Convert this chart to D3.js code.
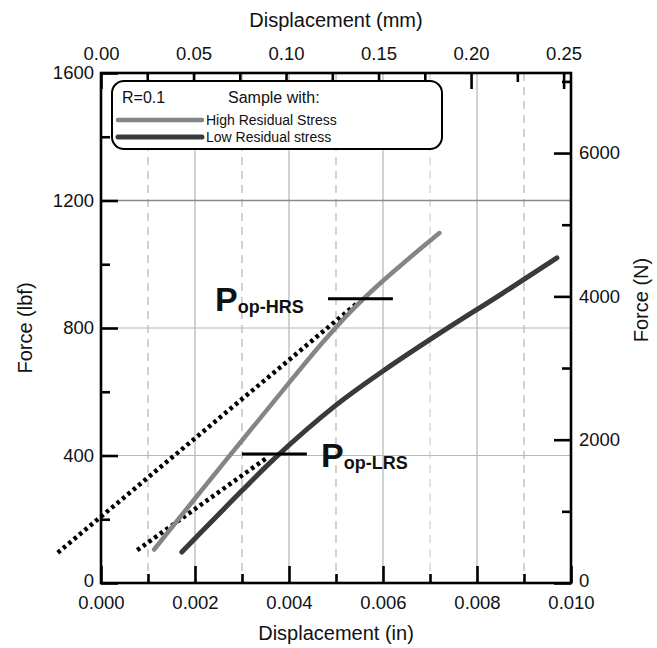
<!DOCTYPE html>
<html>
<head>
<meta charset="utf-8">
<script src="https://cdn.jsdelivr.net/npm/d3@7"></script>
<style>
  body { margin: 0; background: #fff; }
  svg { display: block; }
  text { font-family: "Liberation Sans", Arial, Helvetica, sans-serif; fill: #111; }
</style>
</head>
<body>
<svg id="chart" width="657" height="648"></svg>
<script>
// Load–displacement curves (displacement in inches, force in lbf)
const hrsDisp  = [0.00113, 0.0020, 0.0030, 0.0040, 0.0047, 0.0053, 0.0059, 0.0065, 0.0072];
const hrsForce = [105, 265, 447, 628, 752, 850, 935, 1012, 1098];
const lrsDisp  = [0.00172, 0.0025, 0.0030, 0.0037, 0.0050, 0.0060, 0.0072, 0.0085, 0.0097];
const lrsForce = [97, 215, 290, 392, 558, 665, 783, 905, 1020];

// Tangent (compliance) lines drawn dotted
const hrsTanDisp  = [-0.00092, 0.00545];
const hrsTanForce = [95, 878];
const lrsTanDisp  = [0.00077, 0.00355];
const lrsTanForce = [103, 395];

// Opening-load markers
const popNames = ["HRS", "LRS"];
const popForce = [892, 405];
const popFrom  = [0.00483, 0.00300];
const popTo    = [0.00621, 0.00438];

// Axis ticks
const inMajor = [0, 0.002, 0.004, 0.006, 0.008, 0.010];
const inMinor = [0.001, 0.003, 0.005, 0.007, 0.009];
const mmMajor = [0, 0.05, 0.10, 0.15, 0.20, 0.25];
const mmMinor = [0.025, 0.075, 0.125, 0.175, 0.225];
const lbfMajor = [0, 400, 800, 1200, 1600];
const lbfMinor = [200, 600, 1000, 1400];
const nMajor = [0, 2000, 4000, 6000];
const nMinor = [1000, 3000, 5000, 7000];

const legendNames = ["High Residual Stress", "Low Residual stress"];
const seriesColors = ["#858585", "#3a3a3a"];

const svg = d3.select("#chart");
const L = 101, R = 571, T = 73, B = 583;

const x = d3.scaleLinear().domain([0, 0.010]).range([L, R]);
const xmm = d3.scaleLinear().domain([0, 0.010 * 25.4]).range([L, R]);
const y = d3.scaleLinear().domain([0, 1600]).range([B, T]);
const yN = d3.scaleLinear().domain([0, 1600 * 4.44822]).range([B, T]);

// Grid
const grid = svg.append("g");
grid.selectAll(".vmaj").data(inMajor.slice(1, -1)).join("line")
  .attr("x1", d => x(d)).attr("x2", d => x(d)).attr("y1", T).attr("y2", B)
  .attr("stroke", "#b4b4b4").attr("stroke-width", 1.2);
grid.selectAll(".vmin").data(inMinor).join("line")
  .attr("x1", d => x(d)).attr("x2", d => x(d)).attr("y1", T).attr("y2", B)
  .attr("stroke", d => d === 0.007 ? "#cfcfcf" : "#b4b4b4")
  .attr("stroke-width", 1.2).attr("stroke-dasharray", "8 6");
grid.selectAll(".h").data(lbfMajor.slice(1, -1)).join("line")
  .attr("x1", L).attr("x2", R).attr("y1", d => y(d)).attr("y2", d => y(d))
  .attr("stroke", d => d === 1200 ? "#8a8a8a" : "#b8b8b8")
  .attr("stroke-width", d => d === 1200 ? 1.6 : 1.2);

// Axes with inward ticks
function styleAxis(g) {
  g.select(".domain").remove();
  g.selectAll(".tick line").attr("stroke", "#000").attr("stroke-width", 2.6);
  g.selectAll(".tick text").attr("font-size", 18.5).attr("fill", "#111")
    .attr("font-family", '"Liberation Sans", Arial, sans-serif');
}
const fmt3 = d3.format(".3f"), fmt2 = d3.format(".2f");

svg.append("g").attr("transform", `translate(0,${B})`)
  .call(d3.axisBottom(x).tickValues(inMajor).tickFormat(fmt3).tickSize(-17).tickPadding(13)).call(styleAxis);
svg.append("g").attr("transform", `translate(0,${B})`)
  .call(d3.axisBottom(x).tickValues(inMinor).tickFormat("").tickSize(-9)).call(styleAxis);

svg.append("g").attr("transform", `translate(0,${T})`)
  .call(d3.axisTop(xmm).tickValues(mmMajor).tickFormat(fmt2).tickSize(-16).tickPadding(13)).call(styleAxis);
svg.append("g").attr("transform", `translate(0,${T})`)
  .call(d3.axisTop(xmm).tickValues(mmMinor).tickFormat("").tickSize(-9)).call(styleAxis);

svg.append("g").attr("transform", `translate(${L},0)`)
  .call(d3.axisLeft(y).tickValues(lbfMajor).tickFormat(d3.format("d")).tickSize(-17).tickPadding(7)).call(styleAxis);
svg.append("g").attr("transform", `translate(${L},0)`)
  .call(d3.axisLeft(y).tickValues(lbfMinor).tickFormat("").tickSize(-9)).call(styleAxis);

svg.append("g").attr("transform", `translate(${R},0)`)
  .call(d3.axisRight(yN).tickValues(nMajor).tickFormat(d3.format("d")).tickSize(-17).tickPadding(8)).call(styleAxis);
svg.append("g").attr("transform", `translate(${R},0)`)
  .call(d3.axisRight(yN).tickValues(nMinor).tickFormat("").tickSize(-9)).call(styleAxis);

// The zero labels sit just above the bottom-axis labels
svg.selectAll(".tick text").filter(function () { return this.textContent === "0"; })
  .attr("dy", "0.2em");

// Frame
svg.append("rect").attr("x", L).attr("y", T).attr("width", R - L).attr("height", B - T)
  .attr("fill", "none").attr("stroke", "#000").attr("stroke-width", 2.6);

// Axis titles
svg.append("text").attr("x", (L + R) / 2).attr("y", 640).attr("text-anchor", "middle")
  .attr("font-size", 20).text("Displacement (in)");
svg.append("text").attr("x", (L + R) / 2).attr("y", 27).attr("text-anchor", "middle")
  .attr("font-size", 20).text("Displacement (mm)");
svg.append("text").attr("transform", `translate(32,${(T + B) / 2}) rotate(-90)`)
  .attr("text-anchor", "middle").attr("font-size", 20).text("Force (lbf)");
svg.append("text").attr("transform", `translate(648,${(T + B) / 2 - 28}) rotate(-90)`)
  .attr("text-anchor", "middle").attr("font-size", 20).text("Force (N)");

// Legend box
const lg = svg.append("g");
lg.append("rect").attr("x", 112).attr("y", 81).attr("width", 330).attr("height", 68)
  .attr("rx", 12).attr("fill", "#fff").attr("stroke", "#000").attr("stroke-width", 2);
lg.append("text").attr("x", 122).attr("y", 103).attr("font-size", 16).text("R=0.1");
lg.append("text").attr("x", 228).attr("y", 103).attr("font-size", 16).text("Sample with:");
legendNames.forEach((n, i) => {
  const yy = 120 + i * 17;
  lg.append("line").attr("x1", 118).attr("x2", 202).attr("y1", yy).attr("y2", yy)
    .attr("stroke", seriesColors[i]).attr("stroke-width", i ? 5 : 4.5).attr("stroke-linecap", "round");
  lg.append("text").attr("x", 206).attr("y", yy + 5).attr("font-size", 14).text(n);
});

// Curves
const line = d3.line().x(d => x(d[0])).y(d => y(d[1])).curve(d3.curveCatmullRom.alpha(0.5));
const straight = d3.line().x(d => x(d[0])).y(d => y(d[1]));

svg.append("path").datum(d3.zip(hrsTanDisp, hrsTanForce)).attr("d", straight)
  .attr("fill", "none").attr("stroke", "#000").attr("stroke-width", 4.5).attr("stroke-dasharray", "3.5 3.5");
svg.append("path").datum(d3.zip(lrsTanDisp, lrsTanForce)).attr("d", straight)
  .attr("fill", "none").attr("stroke", "#000").attr("stroke-width", 4.5).attr("stroke-dasharray", "3.5 3.5");

svg.append("path").datum(d3.zip(hrsDisp, hrsForce)).attr("d", line)
  .attr("fill", "none").attr("stroke", seriesColors[0]).attr("stroke-width", 4.5).attr("stroke-linecap", "round");
svg.append("path").datum(d3.zip(lrsDisp, lrsForce)).attr("d", line)
  .attr("fill", "none").attr("stroke", seriesColors[1]).attr("stroke-width", 5).attr("stroke-linecap", "round");

// Opening-load markers and labels
popNames.forEach((n, i) => {
  svg.append("line").attr("x1", x(popFrom[i])).attr("x2", x(popTo[i]))
    .attr("y1", y(popForce[i])).attr("y2", y(popForce[i]))
    .attr("stroke", "#000").attr("stroke-width", 3);
});
const labelPos = [[215, 311], [321, 467]];
popNames.forEach((n, i) => {
  const t = svg.append("text").attr("x", labelPos[i][0]).attr("y", labelPos[i][1])
    .attr("font-family", '"DejaVu Sans", Verdana, sans-serif').attr("font-weight", "bold");
  t.append("tspan").attr("font-size", 34).text("P");
  t.append("tspan").attr("font-size", 18).attr("dy", 2).text("op-" + n);
});
</script>
</body>
</html>
